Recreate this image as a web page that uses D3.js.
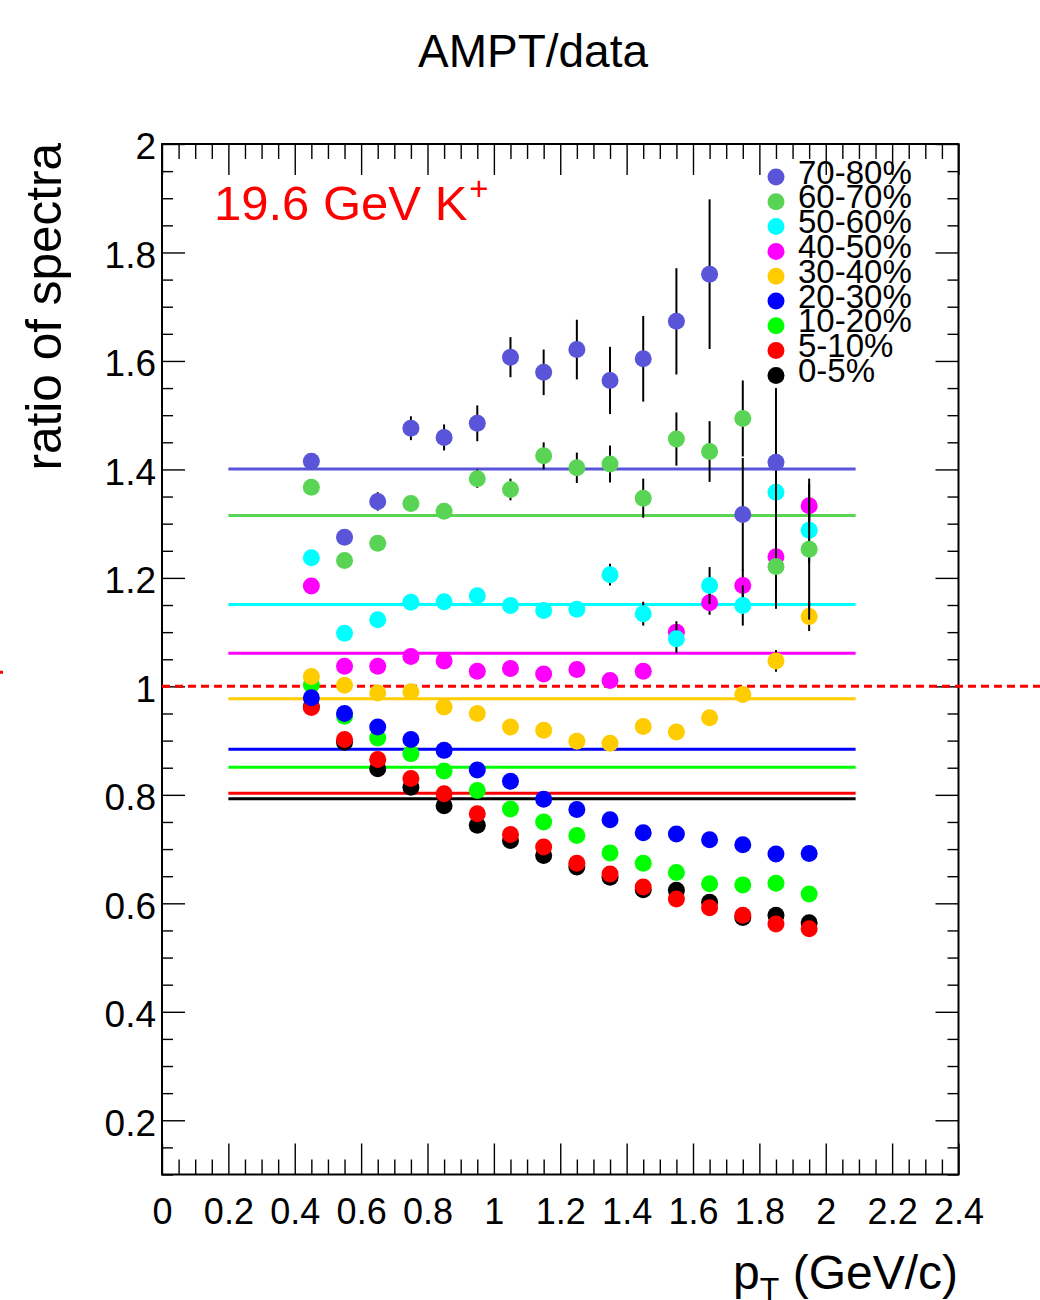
<!DOCTYPE html>
<html>
<head>
<meta charset="utf-8">
<script src="https://cdn.jsdelivr.net/npm/d3@7"></script>
<style>
  html, body { margin: 0; padding: 0; background: #fff; }
  svg { display: block; font-family: "Liberation Sans", Arial, Helvetica, sans-serif; }
</style>
</head>
<body>
<svg id="chart" width="1040" height="1300"></svg>
<script>
// ---------------- data ----------------
const pt = [0.45, 0.55, 0.65, 0.75, 0.85, 0.95, 1.05, 1.15, 1.25, 1.35, 1.45, 1.55, 1.65, 1.75, 1.85, 1.95];

const centralities = ["0-5%", "5-10%", "10-20%", "20-30%", "30-40%", "40-50%", "50-60%", "60-70%", "70-80%"];
const colors = ["#000000", "#ff0000", "#00ff00", "#0000ff", "#ffcc00", "#ff00ff", "#00ffff", "#59d454", "#5954d8"];

const r0005 = [0.963, 0.897, 0.848, 0.814, 0.780, 0.744, 0.716, 0.688, 0.667, 0.648, 0.625, 0.624, 0.602, 0.574, 0.578, 0.564];
const r0510 = [0.961, 0.902, 0.865, 0.830, 0.802, 0.765, 0.727, 0.704, 0.674, 0.654, 0.630, 0.608, 0.592, 0.578, 0.562, 0.553];
const r1020 = [1.003, 0.945, 0.905, 0.876, 0.844, 0.808, 0.774, 0.750, 0.725, 0.693, 0.674, 0.657, 0.636, 0.634, 0.637, 0.617];
const r2030 = [0.979, 0.950, 0.925, 0.902, 0.882, 0.846, 0.825, 0.792, 0.773, 0.754, 0.730, 0.728, 0.717, 0.708, 0.691, 0.692];
const r3040 = [1.018, 1.002, 0.988, 0.990, 0.962, 0.950, 0.925, 0.919, 0.899, 0.895, 0.926, 0.916, 0.942, 0.985, 1.047, 1.129];
const r4050 = [1.185, 1.037, 1.037, 1.055, 1.047, 1.028, 1.033, 1.023, 1.031, 1.011, 1.028, 1.100, 1.154, 1.186, 1.239, 1.333];
const r5060 = [1.237, 1.098, 1.123, 1.155, 1.156, 1.167, 1.149, 1.140, 1.142, 1.206, 1.134, 1.088, 1.186, 1.149, 1.358, 1.288];
const r6070 = [1.367, 1.232, 1.264, 1.337, 1.323, 1.383, 1.363, 1.425, 1.403, 1.410, 1.347, 1.456, 1.433, 1.494, 1.221, 1.253];
const r7080 = [1.415, 1.275, 1.341, 1.476, 1.459, 1.485, 1.607, 1.579, 1.621, 1.564, 1.604, 1.673, 1.760, 1.317, 1.413, null];

const e0005 = [0.003, 0.003, 0.003, 0.003, 0.003, 0.003, 0.003, 0.004, 0.004, 0.004, 0.004, 0.005, 0.005, 0.005, 0.006, 0.006];
const e0510 = [0.003, 0.003, 0.003, 0.003, 0.003, 0.003, 0.004, 0.004, 0.004, 0.004, 0.005, 0.005, 0.005, 0.006, 0.006, 0.007];
const e1020 = [0.003, 0.003, 0.003, 0.003, 0.003, 0.004, 0.004, 0.004, 0.005, 0.005, 0.005, 0.006, 0.006, 0.007, 0.008, 0.009];
const e2030 = [0.003, 0.003, 0.003, 0.004, 0.004, 0.004, 0.005, 0.005, 0.005, 0.006, 0.006, 0.007, 0.008, 0.009, 0.010, 0.011];
const e3040 = [0.004, 0.004, 0.004, 0.004, 0.005, 0.005, 0.005, 0.006, 0.006, 0.007, 0.008, 0.009, 0.010, 0.013, 0.020, 0.027];
const e4050 = [0.004, 0.004, 0.005, 0.005, 0.005, 0.006, 0.006, 0.007, 0.008, 0.009, 0.012, 0.020, 0.022, 0.030, 0.060, 0.040];
const e5060 = [0.005, 0.005, 0.005, 0.006, 0.006, 0.007, 0.008, 0.009, 0.012, 0.020, 0.022, 0.027, 0.034, 0.037, 0.070, 0.060];
const e6070 = [0.006, 0.006, 0.007, 0.009, 0.010, 0.017, 0.020, 0.025, 0.028, 0.034, 0.036, 0.049, 0.056, 0.070, 0.078, 0.130];
const e7080 = [0.015, 0.011, 0.017, 0.022, 0.024, 0.033, 0.037, 0.042, 0.055, 0.062, 0.079, 0.098, 0.138, 0.104, 0.137, null];

// constant fit levels for each centrality (0-5% ... 70-80%)
const fitLevels = [0.793, 0.803, 0.851, 0.884, 0.977, 1.061, 1.151, 1.315, 1.401];
const fitRange = [0.2, 2.09];

const xTicksMajor = [0, 0.2, 0.4, 0.6, 0.8, 1.0, 1.2, 1.4, 1.6, 1.8, 2.0, 2.2, 2.4];
const xTickLabels = ["0", "0.2", "0.4", "0.6", "0.8", "1", "1.2", "1.4", "1.6", "1.8", "2", "2.2", "2.4"];
const yTicksMajor = [0.2, 0.4, 0.6, 0.8, 1.0, 1.2, 1.4, 1.6, 1.8, 2.0];
const yTickLabels = ["0.2", "0.4", "0.6", "0.8", "1", "1.2", "1.4", "1.6", "1.8", "2"];

const titleText = "AMPT/data";
const yTitle = "ratio of spectra";
const labelMain = "19.6 GeV K";
const labelSup = "+";

// ---------------- drawing ----------------
const values = [r0005, r0510, r1020, r2030, r3040, r4050, r5060, r6070, r7080];
const errors = [e0005, e0510, e1020, e2030, e3040, e4050, e5060, e6070, e7080];

const L = 162, R = 958.5, T = 144, B = 1174.5;
const svg = d3.select("#chart");
const x = d3.scaleLinear().domain([0, 2.4]).range([L, R]);
const y = d3.scaleLinear().domain([0.1, 2.0]).range([B, T]);

const xMinor = d3.range(0, 2.4001, 0.05).filter(v => Math.abs(v / 0.2 - Math.round(v / 0.2)) > 1e-6);
const yMinor = d3.range(0.1, 2.0001, 0.05).filter(v => Math.abs(v / 0.2 - Math.round(v / 0.2)) > 1e-6);

function styleAxis(g) {
  g.select(".domain").remove();
  g.selectAll(".tick line").attr("stroke", "#000").attr("stroke-width", 1.4);
}

// bottom axis
const gxb = svg.append("g").attr("transform", `translate(0,${B})`)
  .call(d3.axisBottom(x).tickValues(xTicksMajor).tickFormat((d, i) => xTickLabels[i])
    .tickSizeInner(-31).tickSizeOuter(0).tickPadding(24));
styleAxis(gxb);
gxb.selectAll("text").attr("font-size", 36).attr("fill", "#000").attr("font-family", "Liberation Sans, Arial, sans-serif");
svg.append("g").attr("transform", `translate(0,${B})`)
  .call(d3.axisBottom(x).tickValues(xMinor).tickFormat("").tickSizeInner(-15).tickSizeOuter(0)).call(styleAxis);
// top axis
svg.append("g").attr("transform", `translate(0,${T})`)
  .call(d3.axisTop(x).tickValues(xTicksMajor).tickFormat("").tickSizeInner(-31).tickSizeOuter(0)).call(styleAxis);
svg.append("g").attr("transform", `translate(0,${T})`)
  .call(d3.axisTop(x).tickValues(xMinor).tickFormat("").tickSizeInner(-15).tickSizeOuter(0)).call(styleAxis);
// left axis
const gyl = svg.append("g").attr("transform", `translate(${L},0)`)
  .call(d3.axisLeft(y).tickValues(yTicksMajor).tickFormat((d, i) => yTickLabels[i])
    .tickSizeInner(-23).tickSizeOuter(0).tickPadding(6));
styleAxis(gyl);
gyl.selectAll("text").attr("font-size", 37).attr("fill", "#000").attr("dy", "0.4em").attr("font-family", "Liberation Sans, Arial, sans-serif");
svg.append("g").attr("transform", `translate(${L},0)`)
  .call(d3.axisLeft(y).tickValues(yMinor).tickFormat("").tickSizeInner(-11).tickSizeOuter(0)).call(styleAxis);
// right axis
svg.append("g").attr("transform", `translate(${R},0)`)
  .call(d3.axisRight(y).tickValues(yTicksMajor).tickFormat("").tickSizeInner(-23).tickSizeOuter(0)).call(styleAxis);
svg.append("g").attr("transform", `translate(${R},0)`)
  .call(d3.axisRight(y).tickValues(yMinor).tickFormat("").tickSizeInner(-11).tickSizeOuter(0)).call(styleAxis);

// frame
svg.append("rect").attr("x", L).attr("y", T).attr("width", R - L).attr("height", B - T)
  .attr("fill", "none").attr("stroke", "#000").attr("stroke-width", 2);

// reference dashed line at 1
svg.append("line").attr("x1", L).attr("x2", 1040).attr("y1", y(1)).attr("y2", y(1))
  .attr("stroke", "#ff0000").attr("stroke-width", 3).attr("stroke-dasharray", "8,5");
svg.append("line").attr("x1", 0).attr("x2", 3).attr("y1", y(1.026)).attr("y2", y(1.026))
  .attr("stroke", "#ff0000").attr("stroke-width", 3);

// fit lines
const fitG = svg.append("g");
fitLevels.forEach((lv, i) => {
  fitG.append("line").attr("x1", x(fitRange[0])).attr("x2", x(fitRange[1]))
    .attr("y1", y(lv)).attr("y2", y(lv))
    .attr("stroke", colors[i]).attr("stroke-width", 3);
});

// data series
values.forEach((vals, si) => {
  const g = svg.append("g");
  const pts = pt.map((p, i) => ({ p, v: vals[i], e: errors[si][i] })).filter(d => d.v != null);
  g.selectAll("line.err").data(pts).enter().append("line")
    .attr("x1", d => x(d.p)).attr("x2", d => x(d.p))
    .attr("y1", d => y(d.v - d.e)).attr("y2", d => y(d.v + d.e))
    .attr("stroke", "#000").attr("stroke-width", 2);
  g.selectAll("circle").data(pts).enter().append("circle")
    .attr("cx", d => x(d.p)).attr("cy", d => y(d.v)).attr("r", 8.5)
    .attr("fill", colors[si]);
});

// legend (top: 70-80%)
const legG = svg.append("g");
const legOrder = d3.range(centralities.length - 1, -1, -1);
legOrder.forEach((si, k) => {
  const ly = 177 + k * 24.8;
  legG.append("circle").attr("cx", 776).attr("cy", ly).attr("r", 8.5).attr("fill", colors[si]);
  legG.append("text").attr("x", 798).attr("y", ly + 6.5).attr("font-size", 33).attr("fill", "#000")
    .text(centralities[si]);
});

// title
svg.append("text").attr("x", 533).attr("y", 67).attr("text-anchor", "middle")
  .attr("font-size", 46).attr("fill", "#000").text(titleText);

// y title
svg.append("text").attr("transform", `translate(61,143) rotate(-90)`).attr("text-anchor", "end")
  .attr("font-size", 49.5).attr("fill", "#000").text(yTitle);

// x title
const xt = svg.append("text").attr("x", 958).attr("y", 1289).attr("text-anchor", "end")
  .attr("font-size", 48).attr("fill", "#000");
xt.append("tspan").text("p");
xt.append("tspan").attr("font-size", 32).attr("dy", 11).text("T");
xt.append("tspan").attr("dy", -11).text(" (GeV/c)");

// red label
const rl = svg.append("text").attr("x", 214).attr("y", 220).attr("font-size", 49).attr("fill", "#ff0000");
rl.append("tspan").text(labelMain);
rl.append("tspan").attr("font-size", 33).attr("dx", 2).attr("dy", -20).text(labelSup);
</script>
</body>
</html>
